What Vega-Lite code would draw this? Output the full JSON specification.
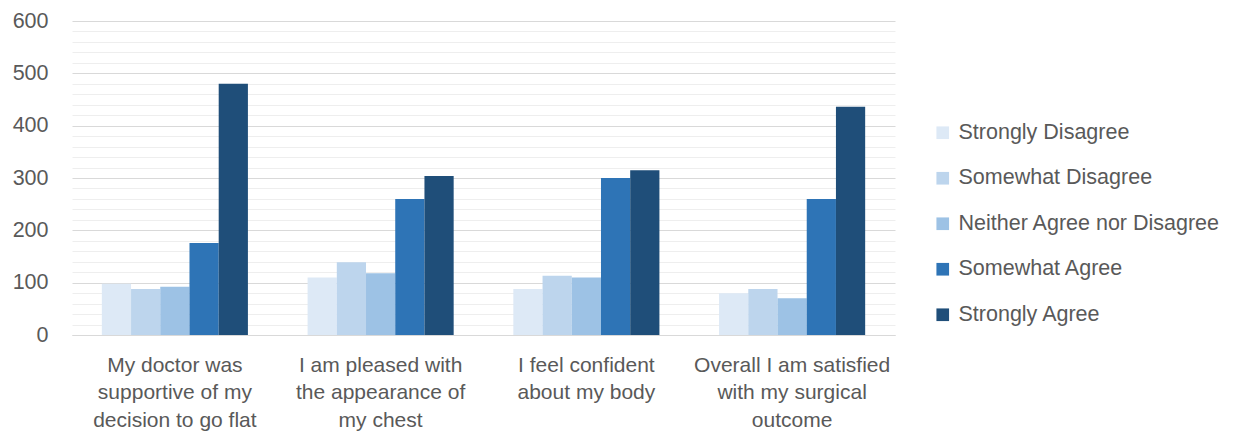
{
  "$schema": "https://vega.github.io/schema/vega-lite/v6.json",
  "width": 823,
  "height": 314,
  "autosize": {"type": "none"},
  "padding": {"left": 72, "top": 21, "right": 339, "bottom": 102},
  "background": "white",
  "config": {
    "view": {"stroke": null},
    "font": "Liberation Sans, sans-serif"
  },
  "data": {
    "values": [
      {"q": "My doctor was|supportive of my|decision to go flat", "r": "Strongly Disagree", "v": 98},
      {"q": "My doctor was|supportive of my|decision to go flat", "r": "Somewhat Disagree", "v": 88},
      {"q": "My doctor was|supportive of my|decision to go flat", "r": "Neither Agree nor Disagree", "v": 92},
      {"q": "My doctor was|supportive of my|decision to go flat", "r": "Somewhat Agree", "v": 176},
      {"q": "My doctor was|supportive of my|decision to go flat", "r": "Strongly Agree", "v": 480},
      {"q": "I am pleased with|the appearance of|my chest", "r": "Strongly Disagree", "v": 110},
      {"q": "I am pleased with|the appearance of|my chest", "r": "Somewhat Disagree", "v": 139},
      {"q": "I am pleased with|the appearance of|my chest", "r": "Neither Agree nor Disagree", "v": 118},
      {"q": "I am pleased with|the appearance of|my chest", "r": "Somewhat Agree", "v": 260},
      {"q": "I am pleased with|the appearance of|my chest", "r": "Strongly Agree", "v": 304},
      {"q": "I feel confident|about my body", "r": "Strongly Disagree", "v": 88},
      {"q": "I feel confident|about my body", "r": "Somewhat Disagree", "v": 113},
      {"q": "I feel confident|about my body", "r": "Neither Agree nor Disagree", "v": 110},
      {"q": "I feel confident|about my body", "r": "Somewhat Agree", "v": 300},
      {"q": "I feel confident|about my body", "r": "Strongly Agree", "v": 315},
      {"q": "Overall I am satisfied|with my surgical|outcome", "r": "Strongly Disagree", "v": 80},
      {"q": "Overall I am satisfied|with my surgical|outcome", "r": "Somewhat Disagree", "v": 88},
      {"q": "Overall I am satisfied|with my surgical|outcome", "r": "Neither Agree nor Disagree", "v": 70},
      {"q": "Overall I am satisfied|with my surgical|outcome", "r": "Somewhat Agree", "v": 260},
      {"q": "Overall I am satisfied|with my surgical|outcome", "r": "Strongly Agree", "v": 436}
    ]
  },
  "mark": {"type": "bar"},
  "encoding": {
    "x": {
      "field": "q",
      "type": "nominal",
      "sort": null,
      "scale": {"paddingInner": 0.29, "paddingOuter": 0.145},
      "axis": {
        "title": null,
        "labelAngle": 0,
        "labelExpr": "split(datum.label, '|')",
        "labelFontSize": 21,
        "labelColor": "#595959",
        "labelLineHeight": 27.5,
        "labelPadding": 19,
        "labelBaseline": "top",
        "ticks": false,
        "domainColor": "#d9d9d9",
        "domainWidth": 1,
        "labelLimit": 0
      }
    },
    "xOffset": {
      "field": "r",
      "type": "nominal",
      "sort": ["Strongly Disagree", "Somewhat Disagree", "Neither Agree nor Disagree", "Somewhat Agree", "Strongly Agree"],
      "scale": {"paddingInner": 0, "paddingOuter": 0}
    },
    "y": {
      "field": "v",
      "type": "quantitative",
      "scale": {"domain": [0, 600], "nice": false},
      "axis": {
        "title": null,
        "values": [0,20,40,60,80,100,120,140,160,180,200,220,240,260,280,300,320,340,360,380,400,420,440,460,480,500,520,540,560,580,600],
        "labelExpr": "datum.value % 100 === 0 ? datum.label : ''",
        "labelFontSize": 21.5,
        "labelColor": "#595959",
        "labelPadding": 24,
        "ticks": false,
        "domain": false,
        "gridColor": {"condition": {"test": "datum.value % 100 === 0", "value": "#d9d9d9"}, "value": "#eeeeee"},
        "gridWidth": 1
      }
    },
    "color": {
      "field": "r",
      "type": "nominal",
      "sort": ["Strongly Disagree", "Somewhat Disagree", "Neither Agree nor Disagree", "Somewhat Agree", "Strongly Agree"],
      "scale": {
        "domain": ["Strongly Disagree", "Somewhat Disagree", "Neither Agree nor Disagree", "Somewhat Agree", "Strongly Agree"],
        "range": ["#dde9f6", "#bdd5ed", "#9dc2e5", "#2e74b6", "#1f4e79"]
      },
      "legend": {
        "title": null,
        "orient": "none",
        "legendX": 860,
        "legendY": 101,
        "symbolType": "square",
        "symbolSize": 160,
        "symbolStrokeWidth": 0,
        "labelFontSize": 21.5,
        "labelColor": "#595959",
        "labelOffset": 5,
        "rowPadding": 22.5,
        "labelLimit": 0
      }
    }
  }
}
